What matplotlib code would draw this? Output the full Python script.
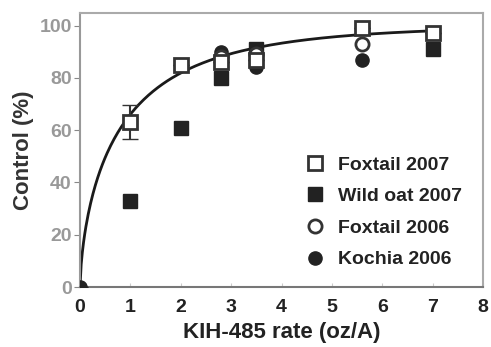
import numpy as np
import matplotlib
matplotlib.use("Agg")
import matplotlib.pyplot as plt

# Data
fox07_x = [0, 1, 2, 2.8, 3.5, 5.6, 7]
fox07_y = [0, 63, 85, 86, 87, 99, 97]
fox07_err = [0, 6.5, 0, 0, 0, 0, 0]
oat07_x = [1, 2, 2.8, 3.5, 7]
oat07_y = [33, 61, 80, 91, 91]
fox06_x = [2.8, 3.5, 5.6]
fox06_y = [88, 89, 93]
koc06_x = [0, 2.8, 3.5, 5.6]
koc06_y = [0, 90, 84, 87]

# fitted response curve parameters (Weibull-type)
fit_max = 100.0
fit_k = 1.08
fit_p = 0.66

xticks = [0, 1, 2, 3, 4, 5, 6, 7, 8]
yticks = [0, 20, 40, 60, 80, 100]

plt.rcParams['font.family'] = ['Liberation Sans', 'DejaVu Sans']

fig = plt.figure(figsize=(4.91, 3.47), dpi=100)
ax = fig.add_axes([80/491, 60/347, 403/491, 274/347])

xc = np.linspace(0, 7, 300)
yc = fit_max * (1 - np.exp(-fit_k * xc**fit_p))
ax.plot(xc, yc, color='#1a1a1a', lw=2.0, zorder=2)

ms = 9.5
ax.errorbar(fox07_x, fox07_y, yerr=fox07_err, fmt='none', ecolor='#333', elinewidth=1.5, capsize=5.5, zorder=3)
ax.plot(oat07_x, oat07_y, 's', ms=ms, color='#222', mec='#222', zorder=4, label='Wild oat 2007')
ax.plot(koc06_x, koc06_y, 'o', ms=ms, color='#222', mec='#222', zorder=4, label='Kochia 2006')
ax.plot(fox06_x, fox06_y, 'o', ms=ms, mfc='white', mec='#333', mew=2.0, zorder=5, label='Foxtail 2006')
ax.plot(fox07_x[1:], fox07_y[1:], 's', ms=ms, mfc='white', mec='#333', mew=2.0, zorder=5, label='Foxtail 2007')

ax.set_xlim(0, 8)
ax.set_ylim(0, 104.8)
ax.set_xticks(xticks)
ax.set_yticks(yticks)
ax.set_xticklabels([str(t) for t in xticks], fontsize=14, fontweight='bold', color='#222')
ax.set_yticklabels([str(t) for t in yticks], fontsize=14, fontweight='bold', color='#999')
ax.tick_params(axis='x', length=3, color='#ccc', direction='in', pad=9)
ax.tick_params(axis='y', length=4, color='#888', direction='out', pad=2)
for s in ['top', 'right']:
    ax.spines[s].set_color('#aaa')
    ax.spines[s].set_linewidth(1.5)
ax.spines['left'].set_color('#999')
ax.spines['left'].set_linewidth(1.5)
ax.spines['bottom'].set_color('#777')
ax.spines['bottom'].set_linewidth(1.5)

ax.set_xlabel('KIH-485 rate (oz/A)', fontsize=16, fontweight='bold', color='#222', labelpad=4)
ax.set_ylabel('Control (%)', fontsize=16, fontweight='bold', color='#333', labelpad=4)

h, l = ax.get_legend_handles_labels()
order = ['Foxtail 2007', 'Wild oat 2007', 'Foxtail 2006', 'Kochia 2006']
hh = [h[l.index(o)] for o in order]
leg = ax.legend(hh, order, loc='upper left', bbox_to_anchor=(0.515, 0.542), frameon=False,
                handlelength=1.0, handletextpad=0.7, labelspacing=0.72,
                prop={'weight': 'bold', 'size': 14})
for t in leg.get_texts():
    t.set_color('#222')

fig.savefig('out.png', dpi=100)
